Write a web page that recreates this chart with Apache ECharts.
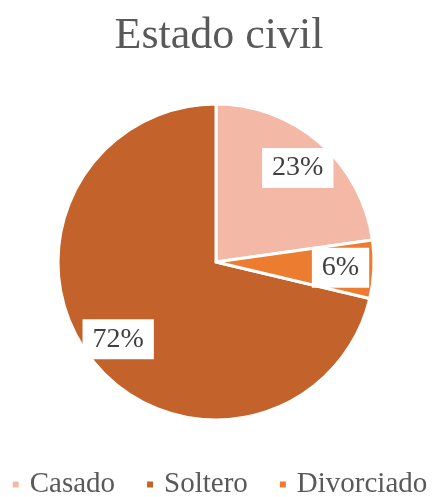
<!DOCTYPE html>
<html>
<head>
<meta charset="utf-8">
<script src="https://cdn.jsdelivr.net/npm/echarts@6/dist/echarts.min.js"></script>
<style>
  html, body { margin: 0; padding: 0; background: #ffffff; }
  #chart { width: 438px; height: 497px; }
</style>
</head>
<body>
<div id="chart"></div>
<script>
// Marital status shares (percent)
const categories = ['Casado', 'Soltero', 'Divorciado'];
const values = [23, 72, 6];
const colors = ['#F3B9A6', '#C3622A', '#EC7C30'];

const SERIF = '"Liberation Serif", "Times New Roman", serif';
const total = values.reduce((a, b) => a + b, 0);
// First slice ends at 12 o'clock when drawn counter-clockwise
const startAngle = 90 - values[0] / total * 360;
const cx = 216, cy = 262, R = 158;

const pieData = categories.map((name, i) => ({
  name: name,
  value: values[i],
  itemStyle: { color: colors[i] }
}));

const chart = echarts.init(document.getElementById('chart'), null, { renderer: 'canvas' });
chart.setOption({
  animation: false,
  backgroundColor: '#ffffff',
  title: {
    text: 'Estado civil',
    left: 'center',
    top: 9,
    textStyle: { fontFamily: SERIF, fontSize: 44, fontWeight: 'normal', color: '#595959' }
  },
  legend: {
    data: categories,
    top: 465,
    left: 'center',
    icon: 'rect',
    itemWidth: 8,
    itemHeight: 8,
    itemGap: 30,
    textStyle: { fontFamily: SERIF, fontSize: 29, color: '#595959', padding: [0, 0, 0, 5] }
  },
  series: [
    {
      type: 'pie',
      center: [cx, cy],
      radius: R,
      startAngle: startAngle,
      clockwise: false,
      silent: true,
      itemStyle: { borderColor: '#ffffff', borderWidth: 3 },
      label: { show: false },
      labelLine: { show: false },
      data: pieData
    },
    {
      // Transparent ring that positions the value labels near the rim
      type: 'pie',
      center: [cx, cy],
      radius: [R * 0.54, R],
      startAngle: startAngle,
      clockwise: false,
      silent: true,
      itemStyle: { color: 'rgba(0,0,0,0)', borderWidth: 0 },
      label: {
        show: true,
        position: 'inside',
        formatter: '{c}%',
        fontFamily: SERIF,
        fontSize: 28,
        color: '#404040',
        backgroundColor: '#ffffff',
        padding: [7, 10, 5, 10]
      },
      labelLine: { show: false },
      data: categories.map((name, i) => ({ name: name, value: values[i] }))
    }
  ]
});
</script>
</body>
</html>
